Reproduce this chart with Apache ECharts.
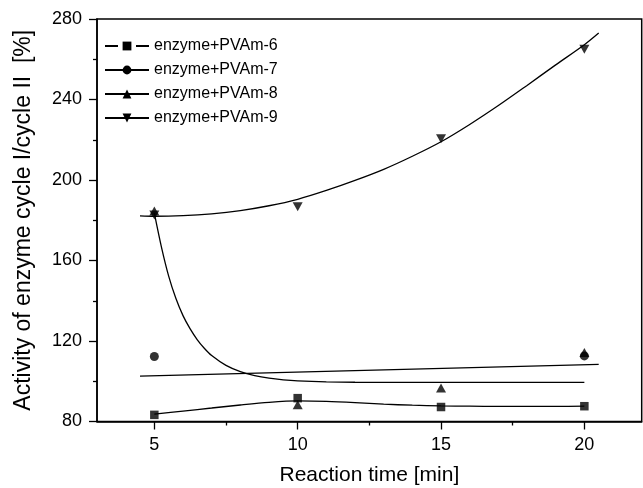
<!DOCTYPE html>
<html>
<head>
<meta charset="utf-8">
<script src="https://cdn.jsdelivr.net/npm/echarts@6/dist/echarts.min.js"></script>
<style>
html,body{margin:0;padding:0;background:#fff;}
#chart{width:643px;height:488px;}
</style>
</head>
<body>
<div id="chart"></div>
<script>
// ---- data ----
var times = [5, 10, 15, 20];
var pvam6 = [83.3, 91.6, 87.2, 87.6];
var pvam7 = [112.3, null, null, 112.6];
var pvam8 = [184.6, 88.3, 96.6, 114.3];
var pvam9 = [182.6, 186.7, 220.5, 265.0];

// fitted curves
var fit6X = [5, 6, 7, 8, 9, 10, 11, 12, 13, 14, 15, 16, 17, 18, 19, 20];
var fit6Y = [83.7, 85.2, 86.7, 88.2, 89.5, 90.2, 90.0, 89.4, 88.6, 88.1, 87.8, 87.6, 87.5, 87.5, 87.5, 87.6];
var fit7X = [4.5, 20.5];
var fit7Y = [102.5, 108.4];
var fit8X = [5, 5.25, 5.5, 5.75, 6, 6.25, 6.5, 6.75, 7, 7.5, 8, 8.5, 9, 9.5, 10, 11, 12, 14, 17, 20];
var fit8Y = [183.5, 166.5, 152.2, 141.2, 132.6, 126.0, 120.6, 116.3, 112.8, 107.9, 104.8, 102.8, 101.5, 100.7, 100.2, 99.7, 99.5, 99.4, 99.4, 99.4];
var fit9X = [4.5, 5, 6, 7, 8, 9, 10, 11, 12, 13, 14, 15, 16, 17, 18, 19, 20, 20.5];
var fit9Y = [182.2, 182.0, 182.3, 183.2, 184.8, 187.2, 190.4, 194.8, 199.8, 205.3, 211.8, 219.0, 227.6, 237.0, 247.0, 257.2, 267.2, 273.0];

var seriesNames = ['enzyme+PVAm-6', 'enzyme+PVAm-7', 'enzyme+PVAm-8', 'enzyme+PVAm-9'];
var xMajorTicks = [5, 10, 15, 20];
var xMinorTicks = [7.5, 12.5, 17.5];
var xRange = [3, 22];
var yRange = [80, 280];
var yInterval = 40;
var xTitle = 'Reaction time [min]';
var yTitle = 'Activity of enzyme cycle I/cycle II  [%]';

// ---- build ----
function pairs(xs, ys) {
  var out = [];
  for (var i = 0; i < xs.length; i++) {
    if (ys[i] !== null && ys[i] !== undefined) out.push([xs[i], ys[i]]);
  }
  return out;
}
var FONT = 'Liberation Sans, Arial, Helvetica, sans-serif';
var downTri = 'path://M0,0L10,0L5,9Z';
var symbols = ['rect', 'circle', 'triangle', downTri];
var symSizes = [8.5, 9, [10, 9], [10, 9]];
var fitsX = [fit6X, fit7X, fit8X, fit9X];
var fitsY = [fit6Y, fit7Y, fit8Y, fit9Y];
var marks = [pvam6, pvam7, pvam8, pvam9];

var series = [];
for (var i = 0; i < 4; i++) {
  series.push({
    name: seriesNames[i],
    type: 'line',
    xAxisIndex: 0,
    data: pairs(fitsX[i], fitsY[i]),
    smooth: i === 1 ? false : 0.3,
    showSymbol: false,
    symbol: symbols[i],
    symbolSize: symSizes[i],
    color: '#000',
    itemStyle: {color: '#000'},
    lineStyle: {color: '#000', width: 1.3},
    silent: true,
    z: 2
  });
}
for (var j = 0; j < 4; j++) {
  series.push({
    name: 'markers-' + j,
    type: 'scatter',
    xAxisIndex: 0,
    data: pairs(times, marks[j]),
    symbol: symbols[j],
    symbolSize: symSizes[j],
    itemStyle: {color: '#000'},
    silent: true,
    z: 3
  });
}

var chart = echarts.init(document.getElementById('chart'), null, {renderer: 'canvas'});
chart.setOption({
  animation: false,
  backgroundColor: '#fff',
  grid: {left: 97, right: 1.3, top: 19, bottom: 66.5, outerBoundsMode: 'none', containLabel: false, show: true, borderColor: '#000', borderWidth: 1.5, backgroundColor: 'transparent'},
  legend: {
    orient: 'vertical',
    left: 99,
    top: 33,
    itemWidth: 44,
    itemHeight: 11,
    itemGap: 8,
    textStyle: {fontSize: 16, color: '#000', fontFamily: FONT},
    data: [
      {name: seriesNames[0], lineStyle: {type: [13, 18]}},
      {name: seriesNames[1]},
      {name: seriesNames[2]},
      {name: seriesNames[3]}
    ]
  },
  xAxis: [{
    type: 'value',
    min: xRange[0],
    max: xRange[1],
    position: 'bottom',
    axisLine: {show: true, lineStyle: {color: '#000', width: 1.5}},
    axisTick: {show: true, inside: false, length: 8, customValues: xMajorTicks, lineStyle: {color: '#000', width: 1.3}},
    axisLabel: {customValues: xMajorTicks, fontSize: 18, color: '#000', fontFamily: FONT, margin: 15},
    splitLine: {show: false},
    name: xTitle,
    nameLocation: 'middle',
    nameGap: 43,
    nameTextStyle: {fontSize: 21, color: '#000', fontFamily: FONT}
  }, {
    type: 'value',
    min: xRange[0],
    max: xRange[1],
    position: 'bottom',
    axisLine: {show: false},
    axisTick: {show: true, inside: false, length: 4, customValues: xMinorTicks, lineStyle: {color: '#000', width: 1.3}},
    axisLabel: {show: false},
    splitLine: {show: false}
  }],
  yAxis: {
    type: 'value',
    min: yRange[0],
    max: yRange[1],
    interval: yInterval,
    axisLine: {show: true, lineStyle: {color: '#000', width: 1.5}},
    axisTick: {show: true, inside: false, length: 8, lineStyle: {color: '#000', width: 1.3}},
    minorTick: {show: true, splitNumber: 2, length: 4, lineStyle: {color: '#000', width: 1.3}},
    axisLabel: {fontSize: 18, color: '#000', fontFamily: FONT, margin: 15},
    splitLine: {show: false},
    name: yTitle,
    nameLocation: 'middle',
    nameGap: 62,
    nameTextStyle: {fontSize: 23, color: '#000', fontFamily: FONT}
  },
  series: series
});
</script>
</body>
</html>
